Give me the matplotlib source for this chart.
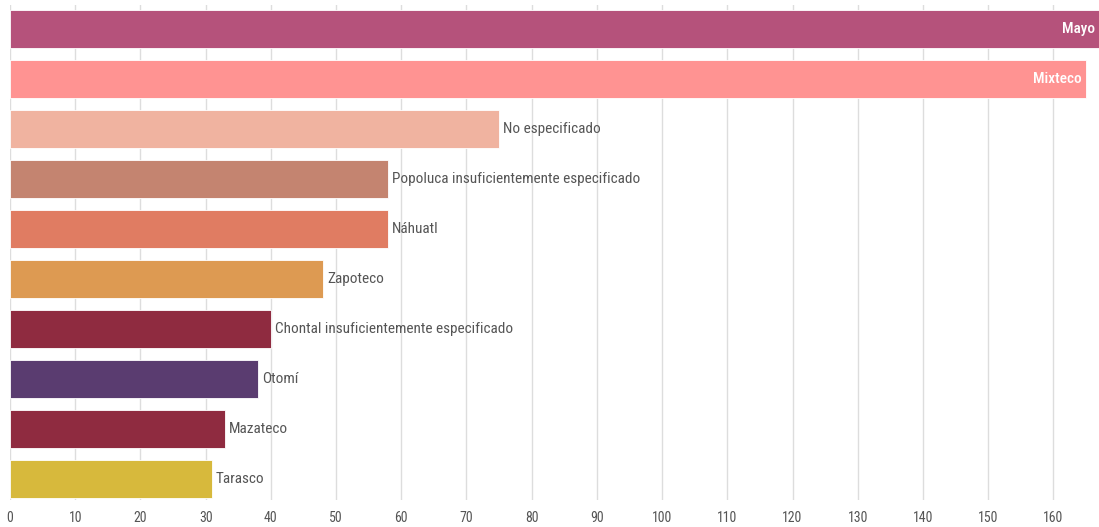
import matplotlib
matplotlib.use("Agg")
import matplotlib.pyplot as plt
from matplotlib import font_manager

names = {f.name for f in font_manager.fontManager.ttflist}
family = [f for f in ["Liberation Sans Narrow", "Roboto Condensed", "Open Sans Condensed", "Roboto", "DejaVu Sans"] if f in names]
plt.rcParams["font.family"] = family

lenguas = ["Mayo", "Mixteco", "No especificado", "Popoluca insuficientemente especificado",
           "Náhuatl", "Zapoteco", "Chontal insuficientemente especificado", "Otomí",
           "Mazateco", "Tarasco"]
valores = [167, 165, 75, 58, 58, 48, 40, 38, 33, 31]
colores = ["#b5527b", "#ff9392", "#f0b3a0", "#c48470", "#e07c62", "#dd9a52",
           "#8f2b40", "#5a3c70", "#8f2b40", "#d7b93c"]
ticks = list(range(0, 170, 10))

fig = plt.figure(figsize=(10.99, 5.27), dpi=100)
ax = fig.add_axes([10 / 1099, 1 - 500 / 527, 1 - 10 / 1099, 495 / 527])

y = list(range(len(lenguas)))
ax.barh(y, valores, height=0.76, color=colores, edgecolor="white", linewidth=0.6, zorder=2)
ax.set_ylim(len(lenguas) - 1 + 0.42, -0.48)
ax.set_xlim(0, 167)

for yi, v, name in zip(y, valores, lenguas):
    if v > 100:
        ax.text(v - 0.6, yi, name, ha="right", va="center", color="white",
                fontsize=11, fontweight="medium", zorder=3)
    else:
        ax.text(v + 0.6, yi, name, ha="left", va="center", color="#555555",
                fontsize=11, zorder=3)

ax.set_xticks(ticks)
ax.set_xticklabels([str(t) for t in ticks], fontsize=10, color="#555555")
ax.tick_params(axis="x", length=0, pad=8)
ax.set_yticks([])
ax.grid(axis="x", color="#dddddd", linewidth=1, zorder=0)
for s in ax.spines.values():
    s.set_visible(False)

fig.savefig("out.png", dpi=100)
